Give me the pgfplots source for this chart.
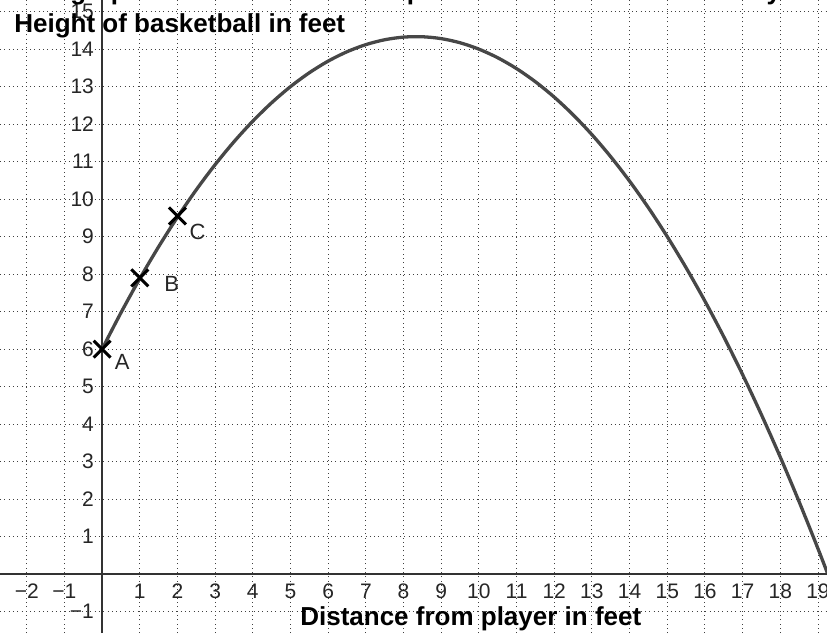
\documentclass[border=0pt]{standalone}
\usepackage{fontspec}
\setmainfont{Liberation Sans}
\usepackage{pgfplots}
\pgfplotsset{compat=1.18}
\definecolor{curvegray}{HTML}{474747}
\definecolor{axisgray}{HTML}{333333}
\begin{document}
\begin{tikzpicture}
\begin{axis}[
  scale only axis, width=827pt, height=633pt,
  xmin=-2.71, xmax=19.24, ymin=-1.57, ymax=15.31,
  axis lines=middle,
  axis line style={line width=2.6pt, color=axisgray, -},
  xtick={-2,-1,1,2,3,4,5,6,7,8,9,10,11,12,13,14,15,16,17,18,19},
  xticklabels={−2,−1,1,2,3,4,5,6,7,8,9,10,11,12,13,14,15,16,17,18,19},
  ytick={-1,1,2,3,4,5,6,7,8,9,10,11,12,13,14,15},
  yticklabels={−1,1,2,3,4,5,6,7,8,9,10,11,12,13,14,15},
  tick label style={font=\fontsize{21}{24}\selectfont, text=black!85},
  xticklabel style={anchor=base, inner sep=0pt, yshift=-24pt},
  yticklabel style={anchor=east, inner sep=0pt, xshift=-8pt},
  major tick length=0pt,
  grid=major,
  major grid style={black!75, line width=0.9pt, dash pattern=on 0.9pt off 3.4pt},
  clip=true,
]
\addplot[smooth, line width=3.3pt, color=curvegray] coordinates {
(0,6) (0.5,6.97) (1,7.88) (1.5,8.73) (2,9.52) (2.5,10.25) (3,10.92) (3.5,11.53)
(4,12.08) (4.5,12.57) (5,13) (5.5,13.37) (6,13.68) (6.5,13.93) (7,14.12) (7.5,14.25)
(8,14.32) (8.5,14.33) (9,14.28) (9.5,14.17) (10,14) (10.5,13.77) (11,13.48) (11.5,13.13)
(12,12.72) (12.5,12.25) (13,11.72) (13.5,11.13) (14,10.48) (14.5,9.77) (15,9) (15.5,8.17)
(16,7.28) (16.5,6.33) (17,5.32) (17.5,4.25) (18,3.12) (18.5,1.93) (19,0.68) (19.25,0.03)
};
\addplot[only marks, mark=x, mark size=12pt, line width=3pt, black] coordinates {
(0,6) (1,7.9) (2,9.55)
};
\node[font=\fontsize{22}{26}\selectfont, text=black!85] at (axis cs:0,6) [xshift=20pt, yshift=-13pt] {A};
\node[font=\fontsize{22}{26}\selectfont, text=black!85] at (axis cs:1,7.9) [xshift=32pt, yshift=-6pt] {B};
\node[font=\fontsize{22}{26}\selectfont, text=black!85] at (axis cs:2,9.55) [xshift=20pt, yshift=-16pt] {C};
\node[font=\bfseries\fontsize{26}{30}\selectfont, anchor=base west, inner sep=0pt] at (axis cs:-2.335,14.43) {Height of basketball in feet};
\node[font=\bfseries\fontsize{26}{30}\selectfont, anchor=base west, inner sep=0pt] at (axis cs:5.255,-1.36) {Distance from player in feet};
\node[font=\bfseries\fontsize{26}{30}\selectfont, anchor=base west, inner sep=0pt] at (axis cs:-2.267,15.32) {The graph below illustrates the path of a basketball thrown by};
\coordinate (bl) at (axis cs:-2.71,-1.57);
\coordinate (tr) at (axis cs:19.24,15.31);
\end{axis}
\pgfresetboundingbox
\useasboundingbox (bl) rectangle (tr);
\end{tikzpicture}
\end{document}
